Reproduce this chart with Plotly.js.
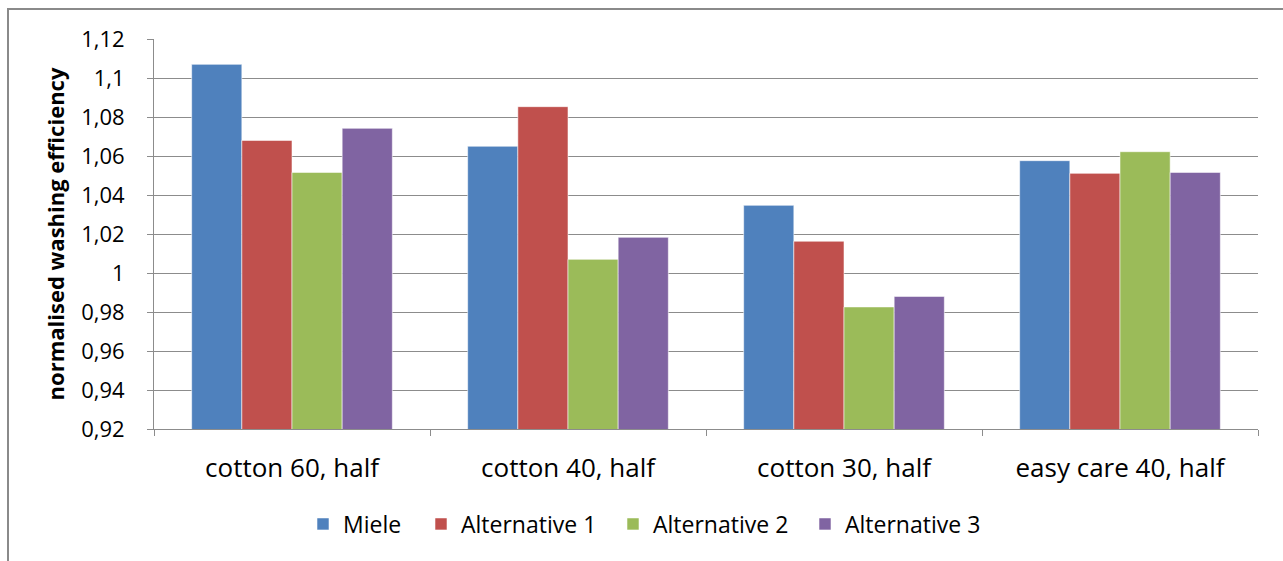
<!DOCTYPE html>
<html>
<head>
<meta charset="utf-8">
<script src="https://cdn.plot.ly/plotly-3.0.1.min.js"></script>
<style>
  html, body { margin: 0; padding: 0; background: #fff; }
  #chart { width: 1283px; height: 561px; }
</style>
</head>
<body>
<div id="chart"></div>
<script>
// Washing programmes on the category axis
const programmes = ["cotton 60, half", "cotton 40, half", "cotton 30, half", "easy care 40, half"];

// Normalised washing efficiency per machine
const miele = [1.107, 1.065, 1.0347, 1.0576];
const alternative1 = [1.068, 1.0853, 1.0163, 1.0511];
const alternative2 = [1.0516, 1.007, 0.9826, 1.0622];
const alternative3 = [1.0742, 1.0183, 0.988, 1.0516];

const seriesNames = ["Miele", "Alternative 1", "Alternative 2", "Alternative 3"];
const seriesValues = [miele, alternative1, alternative2, alternative3];
const seriesColors = ["#4F81BD", "#C0504D", "#9BBB59", "#8064A2"];

// Value axis ticks, written with a decimal comma
const yTickValues = [0.92, 0.94, 0.96, 0.98, 1.0, 1.02, 1.04, 1.06, 1.08, 1.10, 1.12];
const yTickLabels = ["0,92", "0,94", "0,96", "0,98", "1", "1,02", "1,04", "1,06", "1,08", "1,1", "1,12"];

const FONT = "'Open Sans', 'Liberation Sans', sans-serif";
const legendNames = ["legend", "legend2", "legend3", "legend4"];

const traces = seriesNames.map((name, i) => ({
  type: "bar",
  name: name,
  x: programmes,
  y: seriesValues[i],
  legend: legendNames[i],
  showlegend: true,
  marker: {
    color: seriesColors[i],
    line: { color: "rgba(255,255,255,0.55)", width: 1 }
  },
  hoverinfo: "x+y+name"
}));

const plotW = 1104, plotH = 390, mL = 154, mT = 39;
const px = (x) => (x - mL) / plotW;          // page x -> paper x
const py = (y) => 1 - (y - mT) / plotH;      // page y -> paper y

// left edge of each legend entry, in page pixels
const legendX = [303, 421, 613, 805];
const legendCommon = {
  orientation: "h",
  yanchor: "middle",
  xanchor: "left",
  bgcolor: "rgba(0,0,0,0)",
  font: { family: FONT, size: 23, color: "#000" },
  itemwidth: 30
};

const layout = {
  width: 1283,
  height: 561,
  showlegend: true,
  margin: { l: mL, r: 1283 - mL - plotW, t: mT, b: 561 - mT - plotH, pad: 0 },
  paper_bgcolor: "#fff",
  plot_bgcolor: "#fff",
  barmode: "group",
  bargap: 0.273,
  bargroupgap: 0,
  font: { family: FONT, color: "#000" },
  xaxis: {
    type: "category",
    showline: true,
    linecolor: "#8c8c8c",
    linewidth: 1,
    ticks: "outside",
    tickson: "boundaries",
    ticklen: 6,
    tickcolor: "#8c8c8c",
    showgrid: false,
    tickfont: { family: FONT, size: 26, color: "#000" },
    ticklabelstandoff: 16
  },
  yaxis: {
    range: [0.92, 1.12],
    tickvals: yTickValues,
    ticktext: yTickLabels,
    showline: true,
    linecolor: "#8c8c8c",
    linewidth: 1,
    ticks: "outside",
    ticklen: 6,
    tickcolor: "#8c8c8c",
    showgrid: true,
    gridcolor: "#8c8c8c",
    gridwidth: 1,
    zeroline: false,
    tickfont: { family: FONT, size: 22, color: "#000" },
    ticklabelstandoff: 18,
    title: {
      text: "<b>normalised washing efficiency</b>",
      font: { family: FONT, size: 22, color: "#000" },
      standoff: 10
    }
  },
  shapes: [{
    type: "rect",
    xref: "paper", yref: "paper",
    x0: px(8), x1: px(1300),
    y0: py(600), y1: py(9),
    line: { color: "#8a8a8a", width: 2 },
    fillcolor: "rgba(0,0,0,0)",
    layer: "below"
  }]
};

legendNames.forEach((ln, i) => {
  layout[ln] = Object.assign({}, legendCommon, { x: px(legendX[i]), y: py(524) });
});

Plotly.newPlot("chart", traces, layout, { displayModeBar: false, staticPlot: true });
</script>
</body>
</html>
